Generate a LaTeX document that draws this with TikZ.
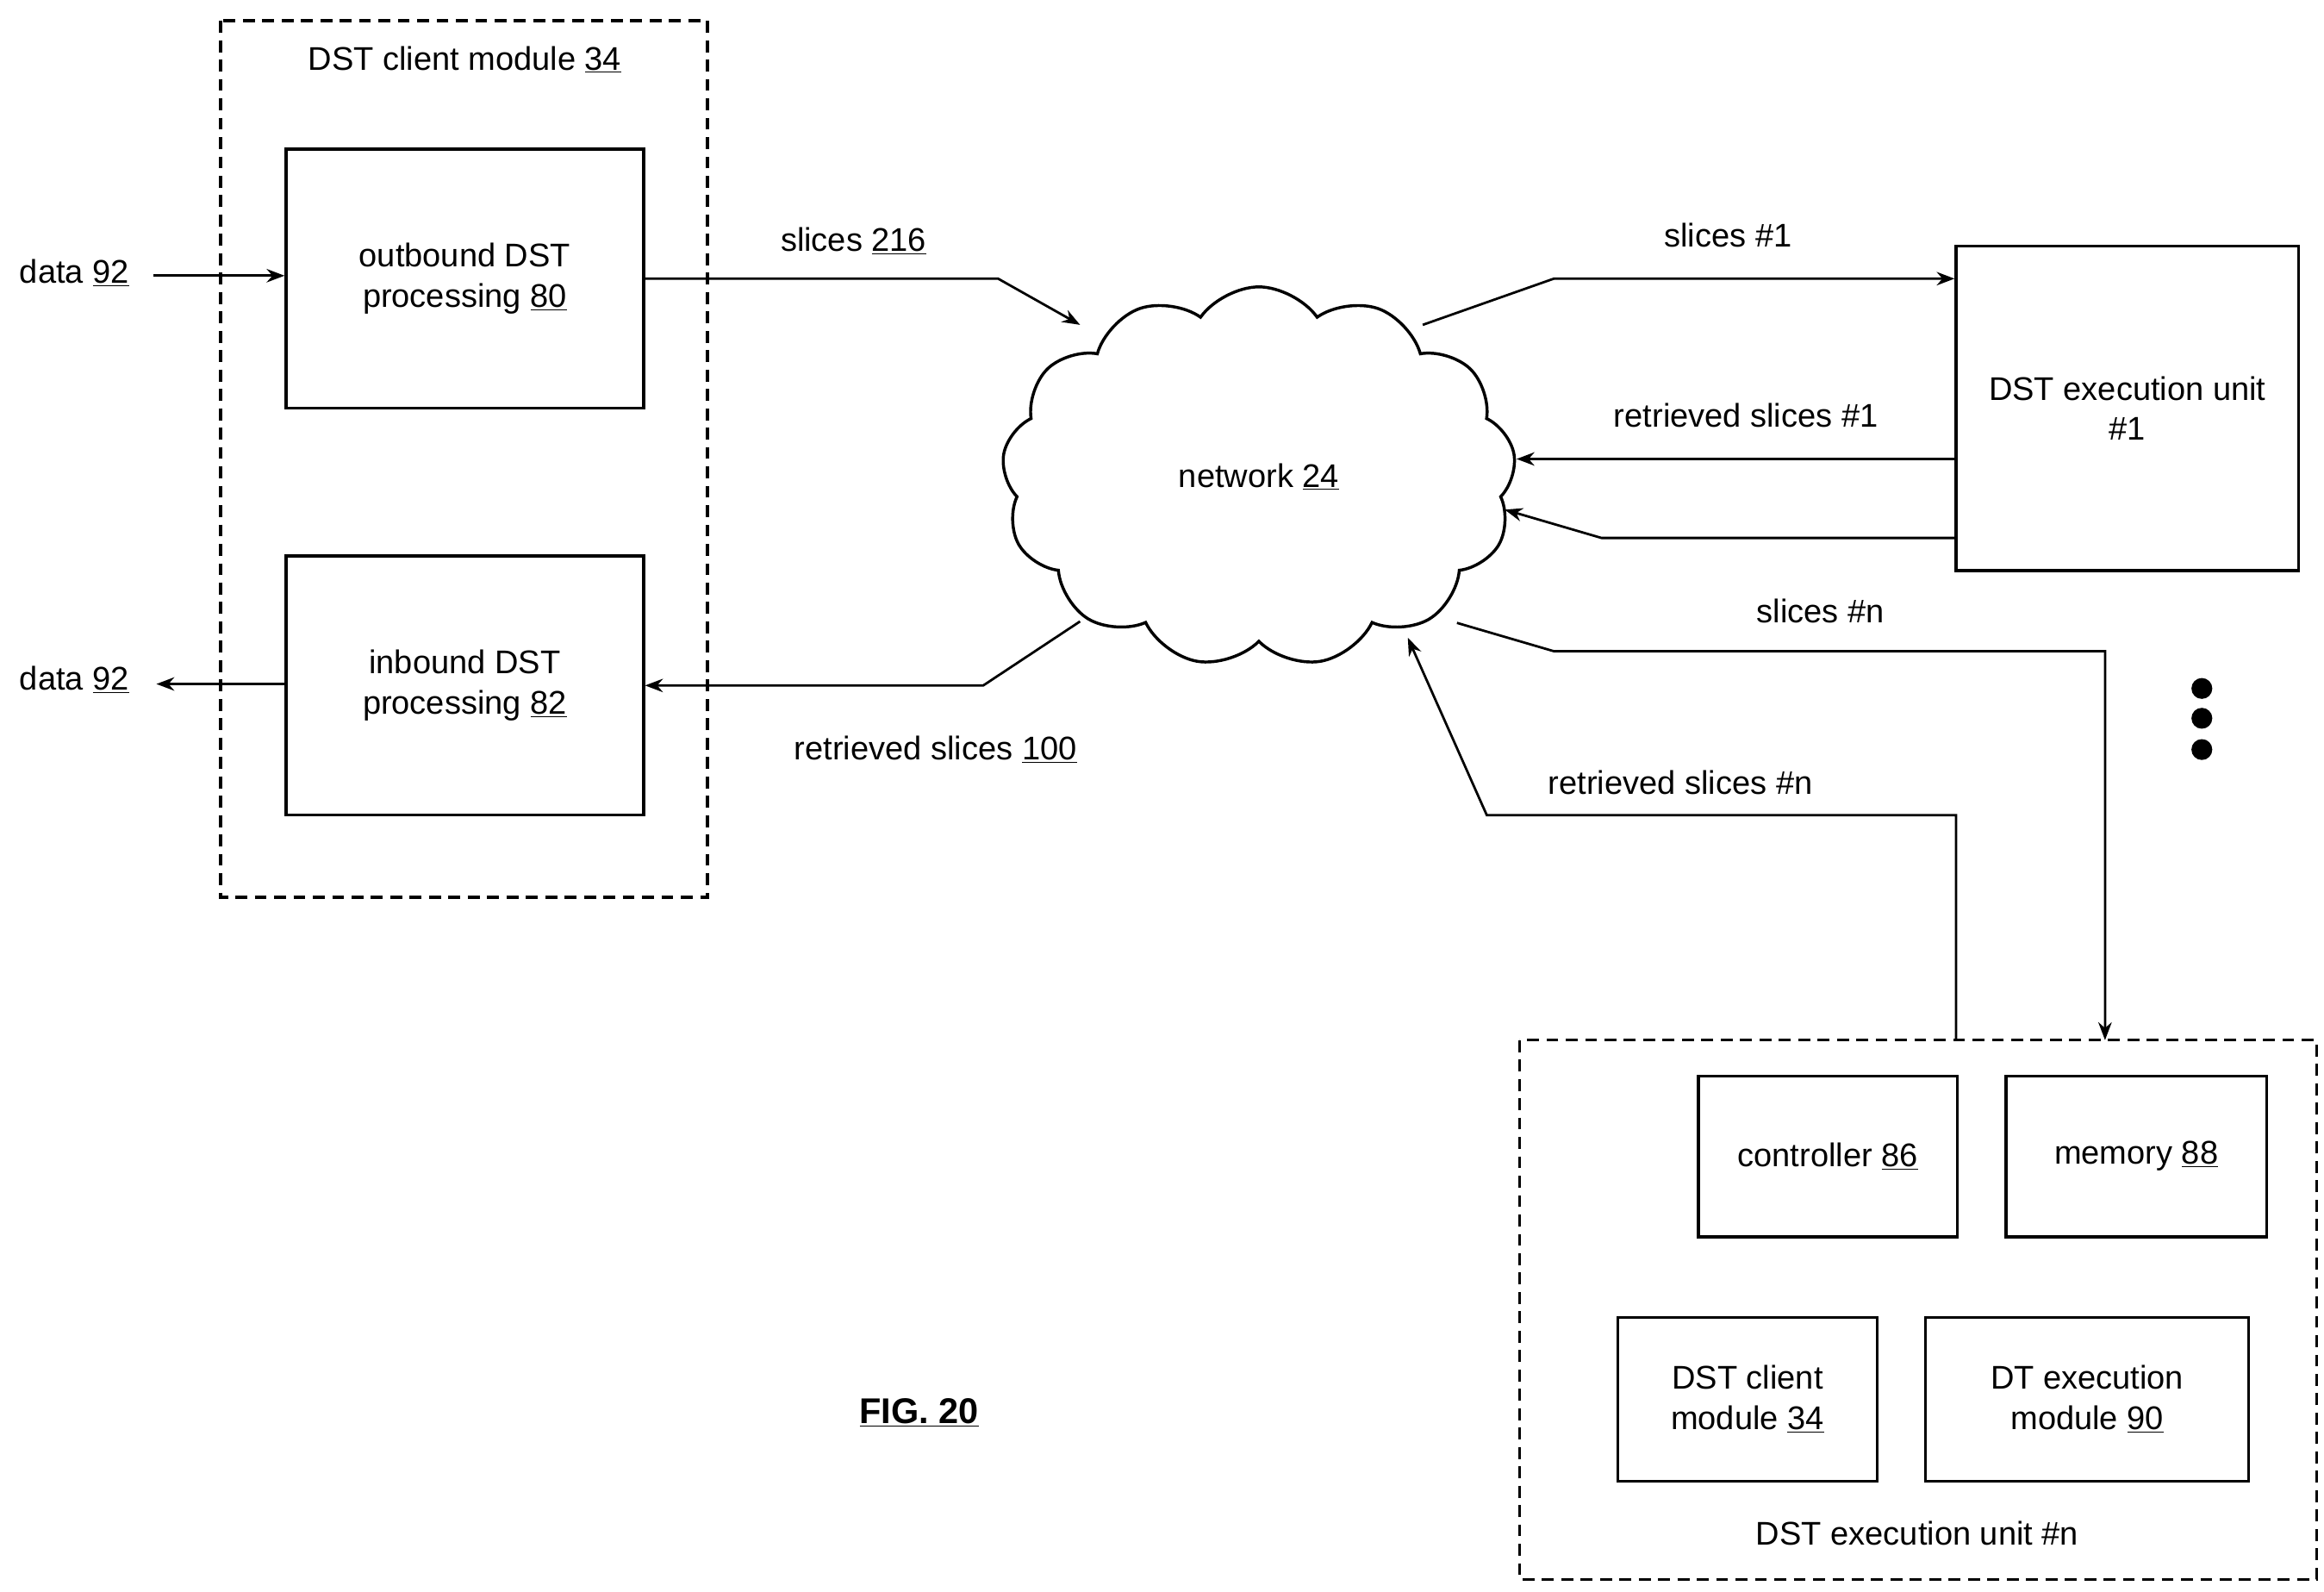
\documentclass[tikz,border=0pt]{standalone}
\usepackage{fontspec}
\setmainfont{Liberation Sans}
\usetikzlibrary{shapes.symbols,arrows.meta}
\newcommand{\ul}[1]{\underline{#1}}
\begin{document}
\begin{tikzpicture}[x=1pt,y=-1pt,
  every node/.style={font=\fontsize{22}{27}\selectfont},
  box/.style={draw,line width=2pt,align=center},
  dbox/.style={draw,line width=2pt,dash pattern=on 8pt off 5pt},
  lab/.style={inner sep=0pt},
  arr/.style={line width=1.6pt,-{Stealth[length=12pt,width=9pt]}},
  ln/.style={line width=1.6pt}]
\useasboundingbox (0,0) rectangle (1560,1068);
% client module
\draw[dbox] (148,14) rectangle (475,602);
\node[lab] (tcl) at (312,40) {DST client module \ul{34}};
\node[box,minimum width=240pt,minimum height=174pt] (out) at (312,187) {outbound DST\\processing \ul{80}};
\node[box,minimum width=240pt,minimum height=174pt] (in) at (312,460) {inbound DST\\processing \ul{82}};
\node[lab] (d1) at (50,183) {data \ul{92}};
\node[lab] (d2) at (50,456) {data \ul{92}};
\coordinate (d1e) at (103,185);
\coordinate (d2e) at (105,459);
\draw[arr] (d1e) -- (out.west |- d1e);
\draw[arr] (in.west |- d2e) -- (d2e);
% cloud
\node[cloud,draw,line width=2pt,cloud puffs=13,cloud puff arc=110,aspect=1.4,minimum width=345pt,minimum height=255pt] (net) at (845,320) {network \ul{24}};
% exec unit 1
\node[box,minimum width=230pt,minimum height=218pt] (e1) at (1428,274) {DST execution unit\\\#1};
% connectors
\coordinate (a1) at (670,187);
\coordinate (a2) at (725,218);
\draw[arr] (out.east |- a1) -- (a1) -- (a2);
\node[lab] (l216) at (573,162) {slices \ul{216}};
\coordinate (b1) at (725,417);
\coordinate (b2) at (660,460);
\draw[arr] (b1) -- (b2) -- (in.east |- b2);
\node[lab] (l100) at (628,503) {retrieved slices \ul{100}};
\coordinate (c1) at (955,218);
\coordinate (c2) at (1043,187);
\draw[arr] (c1) -- (c2) -- (e1.west |- c2);
\node[lab] (ls1) at (1160,158) {slices \#1};
\coordinate (r1) at (1018,308);
\draw[arr] (e1.west |- r1) -- (r1);
\node[lab] (lr1) at (1172,279) {retrieved slices \#1};
\coordinate (q1) at (1075,361);
\coordinate (q2) at (1010,342);
\draw[arr] (e1.west |- q1) -- (q1) -- (q2);
% exec unit n
\draw[dbox] (1020,698) rectangle (1555,1060);
\node[lab] (lun) at (1287,1029) {DST execution unit \#n};
\node[box,minimum width=174pt,minimum height=108pt] (ctl) at (1227,776) {controller \ul{86}};
\node[box,minimum width=175pt,minimum height=108pt] (mem) at (1434,776) {memory \ul{88}};
\node[box,minimum width=174pt,minimum height=110pt] (cli) at (1173,939) {DST client\\module \ul{34}};
\node[box,minimum width=217pt,minimum height=110pt] (dt) at (1401,939) {DT execution\\module \ul{90}};
\coordinate (n0) at (978,418);
\coordinate (n1) at (1043,437);
\coordinate (n2) at (1413,437);
\coordinate (n3) at (1413,698);
\draw[arr] (n0) -- (n1) -- (n2) -- (n3);
\node[lab] (lsn) at (1222,410) {slices \#n};
\coordinate (m0) at (1313,698);
\coordinate (m1) at (1313,547);
\coordinate (m2) at (998,547);
\coordinate (m3) at (945,428);
\draw[arr] (m0) -- (m1) -- (m2) -- (m3);
\node[lab] (lrn) at (1128,525) {retrieved slices \#n};
\foreach \y/\n in {462/p1,482/p2,503/p3} \fill (1478,\y) circle (7pt);
\node[lab,font=\fontsize{24}{28}\selectfont\bfseries] (fig) at (617,948) {\ul{FIG. 20}};
\end{tikzpicture}
\end{document}
